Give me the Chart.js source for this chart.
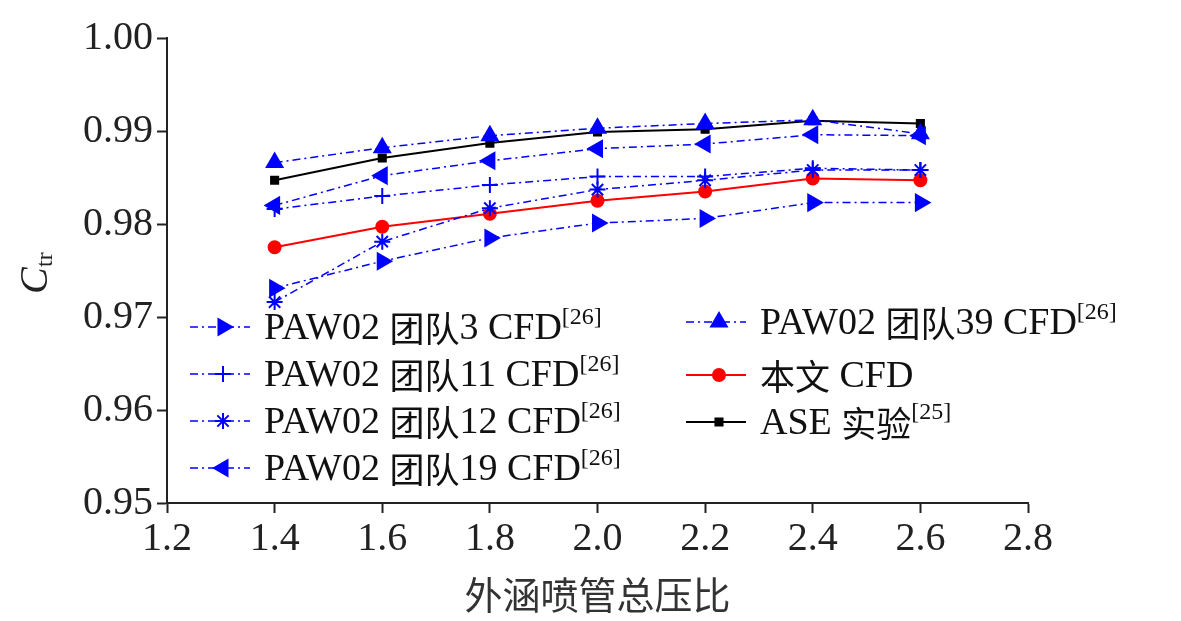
<!DOCTYPE html>
<html><head><meta charset="utf-8">
<script src="https://cdn.jsdelivr.net/npm/chart.js@4/dist/chart.umd.min.js"></script>
<style>body{margin:0;background:#fff}#wrap{width:1181px;height:621px}</style>
</head><body><div id="wrap"><canvas id="c"></canvas></div>
<script>
// pressure ratios
const xVals = [1.4, 1.6, 1.8, 2.0, 2.2, 2.4, 2.6];
const team3 = [0.9731, 0.9760, 0.9785, 0.9801, 0.9806, 0.9823, 0.9823];
const team11 = [0.9816, 0.9830, 0.9842, 0.9851, 0.9851, 0.9860, 0.9858];
const team12 = [0.9716, 0.9781, 0.9817, 0.9837, 0.9847, 0.9858, 0.9858];
const team19 = [0.9820, 0.9852, 0.9868, 0.9881, 0.9886, 0.9896, 0.9895];
const team39 = [0.9866, 0.9882, 0.9895, 0.9903, 0.9908, 0.9912, 0.9897];
const thisCfd = [0.9775, 0.9797, 0.9811, 0.9825, 0.9835, 0.9849, 0.9847];
const aseExp = [0.9847, 0.9871, 0.9887, 0.9899, 0.9902, 0.9911, 0.9908];
const xTicks = ['1.2', '1.4', '1.6', '1.8', '2.0', '2.2', '2.4', '2.6', '2.8'];
const yTicks = ['0.95', '0.96', '0.97', '0.98', '0.99', '1.00'];

const SERIF = '"Liberation Serif", "Times New Roman", serif';
const CJK = '"Noto Sans CJK SC", sans-serif';
const blue = '#0000ff';

function pts(arr) { return arr.map((v, i) => ({x: xVals[i], y: v})); }
function blueSet(name, arr, style, rot, r) {
    return {label: name, ref: '[26]', data: pts(arr), borderColor: blue, backgroundColor: blue,
        borderWidth: 1.5, borderDash: [8, 4, 2, 4], pointStyle: style, rotation: rot,
        pointRadius: r, pointBorderWidth: 2};
}
const datasets = [
    blueSet('PAW02 团队3 CFD', team3, 'triangle', 90, 9),
    blueSet('PAW02 团队11 CFD', team11, 'cross', 0, 8),
    blueSet('PAW02 团队12 CFD', team12, 'star', 0, 8),
    blueSet('PAW02 团队19 CFD', team19, 'triangle', -90, 9),
    blueSet('PAW02 团队39 CFD', team39, 'triangle', 0, 9),
    {label: '本文 CFD', ref: '', data: pts(thisCfd), borderColor: '#ff0000', backgroundColor: '#ff0000',
        borderWidth: 2, pointStyle: 'circle', pointRadius: 6},
    {label: 'ASE 实验', ref: '[25]', data: pts(aseExp), borderColor: '#000', backgroundColor: '#000',
        borderWidth: 2, pointStyle: 'rect', pointRadius: 5}
];

// legend slots: [lineStartX, rowY]
const slots = [[190, 327], [190, 374], [190, 421], [190, 468], [686, 322], [686, 375], [686, 422]];

const decor = {
    id: 'decor',
    afterDraw(chart) {
        const ctx = chart.ctx;
        ctx.save();
        // y title C_tr
        ctx.fillStyle = '#222';
        ctx.translate(36, 272);
        ctx.rotate(-Math.PI / 2);
        ctx.textBaseline = 'middle';
        ctx.font = 'italic 40px ' + SERIF;
        ctx.fillText('C', -22, 0);
        ctx.font = '24px ' + SERIF;
        ctx.fillText('tr', 5, 10);
        ctx.restore();

        // legend
        datasets.forEach((ds, i) => {
            const [x0, y] = slots[i];
            ctx.save();
            ctx.strokeStyle = ds.borderColor;
            ctx.lineWidth = ds.borderWidth;
            ctx.setLineDash(ds.borderDash || []);
            ctx.beginPath(); ctx.moveTo(x0, y); ctx.lineTo(x0 + 60, y); ctx.stroke();
            ctx.setLineDash([]);
            ctx.fillStyle = ds.backgroundColor;
            ctx.lineWidth = 2;
            Chart.helpers.drawPoint(ctx, {pointStyle: ds.pointStyle, rotation: ds.rotation || 0,
                radius: ds.pointRadius, borderWidth: 2}, x0 + 33, y);
            ctx.fillStyle = '#111';
            ctx.textBaseline = 'middle';
            let tx = x0 + 74;
            ds.label.match(/[\u4e00-\u9fff]+|[^\u4e00-\u9fff]+/g).forEach(part => {
                ctx.font = (/[\u4e00-\u9fff]/.test(part) ? '35px ' + CJK : '38px ' + SERIF);
                ctx.fillText(part, tx, y + 2);
                tx += ctx.measureText(part).width;
            });
            if (ds.ref) {
                ctx.font = '24px ' + SERIF;
                ctx.fillText(ds.ref, tx, y - 9);
            }
            ctx.restore();
        });
    }
};

const tickFont = {family: SERIF, size: 40};
new Chart(document.getElementById('c'), {
    type: 'line',
    data: {datasets},
    plugins: [decor],
    options: {
        responsive: true, maintainAspectRatio: false, animation: false,
        layout: {padding: {top: 38, right: 153, left: 0, bottom: 0}},
        plugins: {legend: {display: false}, tooltip: {enabled: false}},
        scales: {
            x: {
                type: 'linear', min: 1.2, max: 2.8,
                afterFit(s) { s.height = 118; },
                afterBuildTicks(s) { s.ticks = xTicks.map(v => ({value: +v})); },
                ticks: {font: tickFont, color: '#222', padding: 2,
                    callback: v => xTicks.find(t => Math.abs(+t - v) < 1e-6) || ''},
                grid: {drawOnChartArea: false, tickLength: 10, color: '#222', tickWidth: 2},
                border: {color: '#222', width: 2},
                title: {display: true, text: '外涵喷管总压比', font: {family: CJK, size: 38}, color: '#333', padding: {top: 0}}
            },
            y: {
                type: 'linear', min: 0.95, max: 1.0,
                afterFit(s) { s.width = 167; },
                afterBuildTicks(s) { s.ticks = yTicks.map(v => ({value: +v})); },
                ticks: {font: tickFont, color: '#222', padding: 4,
                    callback: v => yTicks.find(t => Math.abs(+t - v) < 1e-6) || ''},
                grid: {drawOnChartArea: false, tickLength: 10, color: '#222', tickWidth: 2},
                border: {color: '#222', width: 2}
            }
        }
    }
});
</script></body></html>
